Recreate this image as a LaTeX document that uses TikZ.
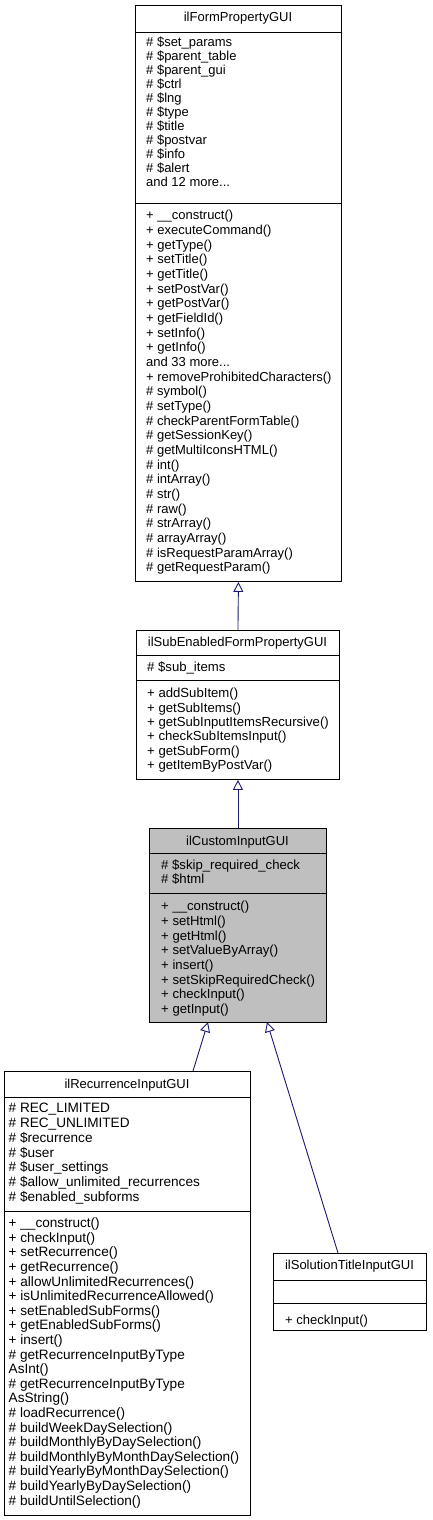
\documentclass[tikz,border=0pt]{standalone}
\usepackage{fontspec}
\setmainfont{Liberation Sans}
\usetikzlibrary{arrows.meta}
\definecolor{edgeblue}{HTML}{191970}
\definecolor{curgray}{HTML}{BFBFBF}
\newcommand\fR{\rule{0pt}{12pt}}
\tikzset{
  cls/.style={draw=black, line width=0.9pt, fill=white, inner sep=0pt, anchor=north west},
  members/.style={anchor=north west, inner sep=0pt, align=left, font=\fontsize{13}{#1}\selectfont},
  members/.default=14,
  bigmembers/.style={anchor=north west, inner sep=0pt, align=left, font=\fontsize{13.6}{#1}\selectfont},
  midmembers/.style={anchor=north west, inner sep=0pt, align=left, font=\fontsize{13.15}{#1}\selectfont},
  ttl/.style={anchor=base, inner sep=0pt, font=\fontsize{13}{14}\selectfont},
  sep/.style={draw=black, line width=0.9pt},
  inh/.style={draw=edgeblue, line width=0.9pt, -{Triangle[open, length=10pt, width=10pt, fill=white]}},
}
\begin{document}
\begin{tikzpicture}[x=1pt, y=-1pt]
\fill[white] (0,0) rectangle (432,1520);
\useasboundingbox (0,0) rectangle (432,1520);

% ilFormPropertyGUI
\node[cls, minimum width=206pt, minimum height=576pt] (b1) at (135,5) {};
\draw[sep] (135,32) -- (341,32);
\draw[sep] (135,203) -- (341,203);
\node[ttl] (b1t) at (238,22) {ilFormPropertyGUI};
\node[members=14] (b1a) at (146,34.7) {\fR\# \$set\_params\\ \# \$parent\_table\\ \# \$parent\_gui\\ \# \$ctrl\\ \# \$lng\\ \# \$type\\ \# \$title\\ \# \$postvar\\ \# \$info\\ \# \$alert\\ and 12 more...};
\node[members=14.67] (b1m) at (146,207.5) {\fR+ \_\_construct()\\ + executeCommand()\\ + getType()\\ + setTitle()\\ + getTitle()\\ + setPostVar()\\ + getPostVar()\\ + getFieldId()\\ + setInfo()\\ + getInfo()\\ and 33 more...\\ + removeProhibitedCharacters()\\ \# symbol()\\ \# setType()\\ \# checkParentFormTable()\\ \# getSessionKey()\\ \# getMultiIconsHTML()\\ \# int()\\ \# intArray()\\ \# str()\\ \# raw()\\ \# strArray()\\ \# arrayArray()\\ \# isRequestParamArray()\\ \# getRequestParam()};

% ilSubEnabledFormPropertyGUI
\node[cls, minimum width=203pt, minimum height=149pt] (b2) at (136,630) {};
\draw[sep] (136,655) -- (339,655);
\draw[sep] (136,680) -- (339,680);
\node[ttl] (b2t) at (237.5,646.5) {ilSubEnabledFormPropertyGUI};
\node[midmembers=14] (b2a) at (147,659.5) {\fR\# \$sub\_items};
\node[midmembers=14.4] (b2m) at (147,685.5) {\fR+ addSubItem()\\ + getSubItems()\\ + getSubInputItemsRecursive()\\ + checkSubItemsInput()\\ + getSubForm()\\ + getItemByPostVar()};

% ilCustomInputGUI
\node[cls, fill=curgray, minimum width=177pt, minimum height=194pt] (b3) at (149,828) {};
\draw[sep] (149,853) -- (326,853);
\draw[sep] (149,893) -- (326,893);
\node[ttl] (b3t) at (237.5,845.5) {ilCustomInputGUI};
\node[midmembers=14] (b3a) at (161,857.5) {\fR\# \$skip\_required\_check\\ \# \$html};
\node[midmembers=14.7] (b3m) at (161,898.5) {\fR+ \_\_construct()\\ + setHtml()\\ + getHtml()\\ + setValueByArray()\\ + insert()\\ + setSkipRequiredCheck()\\ + checkInput()\\ + getInput()};

% ilRecurrenceInputGUI
\node[cls, minimum width=246pt, minimum height=444pt] (b4) at (4,1071) {};
\draw[sep] (4,1097) -- (250,1097);
\draw[sep] (4,1211) -- (250,1211);
\node[ttl] (b4t) at (127,1088.5) {ilRecurrenceInputGUI};
\node[bigmembers=14.8] (b4a) at (8.5,1100.5) {\fR\# REC\_LIMITED\\ \# REC\_UNLIMITED\\ \# \$recurrence\\ \# \$user\\ \# \$user\_settings\\ \# \$allow\_unlimited\_recurrences\\ \# \$enabled\_subforms};
\node[bigmembers=14.6] (b4m) at (8.5,1215.5) {\fR+ \_\_construct()\\ + checkInput()\\ + setRecurrence()\\ + getRecurrence()\\ + allowUnlimitedRecurrences()\\ + isUnlimitedRecurrenceAllowed()\\ + setEnabledSubForms()\\ + getEnabledSubForms()\\ + insert()\\ \# getRecurrenceInputByType\\ AsInt()\\ \# getRecurrenceInputByType\\ AsString()\\ \# loadRecurrence()\\ \# buildWeekDaySelection()\\ \# buildMonthlyByDaySelection()\\ \# buildMonthlyByMonthDaySelection()\\ \# buildYearlyByMonthDaySelection()\\ \# buildYearlyByDaySelection()\\ \# buildUntilSelection()};

% ilSolutionTitleInputGUI
\node[cls, minimum width=153pt, minimum height=77pt] (b5) at (273,1253) {};
\draw[sep] (273,1280) -- (426,1280);
\draw[sep] (273,1303) -- (426,1303);
\node[ttl] (b5t) at (349.5,1269.5) {ilSolutionTitleInputGUI};
\node[members=14] (b5m) at (285,1312.5) {\fR+ checkInput()};

% inheritance
\coordinate (b3sl) at (208,1022);
\coordinate (b3sr) at (267,1022);
\coordinate (b4n) at (193,1071);
\coordinate (b5n) at (338,1253);
\draw[inh] (b2.north) -- (b1.south);
\draw[inh] (b3.north) -- (b2.south);
\draw[inh] (b4n) -- (b3sl);
\draw[inh] (b5n) -- (b3sr);
\end{tikzpicture}
\end{document}
